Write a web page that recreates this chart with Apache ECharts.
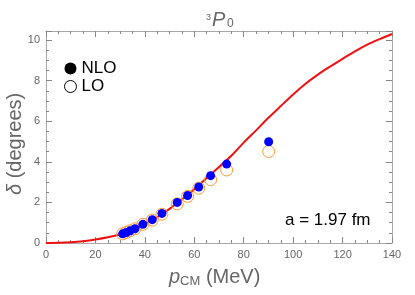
<!DOCTYPE html>
<html>
<head>
<meta charset="utf-8">
<script src="https://cdn.jsdelivr.net/npm/echarts@6/dist/echarts.min.js"></script>
<style>
  html, body { margin: 0; padding: 0; background: #fff; }
  #main { width: 415px; height: 295px; }
</style>
</head>
<body>
<div id="main"></div>
<script>
// phase shift curve (red line)
const curveP = [0, 5, 10, 15, 20, 25, 30, 35, 40, 45, 50, 55, 60, 65, 70, 75, 80, 85, 90, 95, 100, 105, 110, 115, 120, 125, 130, 135, 140];
const curveDelta = [0, 0.01, 0.04, 0.09, 0.17, 0.28, 0.43, 0.65, 0.93, 1.27, 1.68, 2.14, 2.65, 3.2, 3.75, 4.3, 4.95, 5.55, 6.17, 6.75, 7.32, 7.85, 8.3, 8.7, 9.08, 9.45, 9.78, 10.05, 10.3];

// lattice points
const pPoints = [31.0, 32.5, 34.0, 36.0, 39.2, 43.0, 46.9, 53.1, 57.3, 61.8, 66.6, 73.1, 90.1];
const nloDelta = [0.45, 0.52, 0.6, 0.7, 0.92, 1.15, 1.46, 2.0, 2.34, 2.76, 3.32, 3.89, 4.99];
const loDelta = [0.45, 0.52, 0.6, 0.7, 0.92, 1.13, 1.42, 1.93, 2.3, 2.7, 3.12, 3.6, 4.51];

const chart = echarts.init(document.getElementById('main'), null, { renderer: 'canvas' });

const gray = '#a8a8a8';
const tickGray = '#888888';
const labelGray = '#666666';
const font = 'Liberation Sans, Arial, sans-serif';

function makeAxis(type, pos, min, max, interval, showLabel) {
  return {
    type: type, position: pos, min: min, max: max, interval: interval,
    axisLine: { show: true, onZero: false, lineStyle: { color: gray, width: 1 } },
    axisTick: { show: true, inside: true, length: 6, lineStyle: { color: tickGray, width: 1 } },
    minorTick: { show: true, splitNumber: 4, length: 3, lineStyle: { color: tickGray, width: 1 } },
    splitLine: { show: false },
    axisLabel: { show: showLabel, color: labelGray, fontSize: 11, fontFamily: font, margin: 6 }
  };
}

const option = {
  animation: false,
  grid: { left: 46, right: 23, top: 31, bottom: 52 },
  xAxis: [
    makeAxis('value', 'bottom', 0, 140, 20, true),
    makeAxis('value', 'top', 0, 140, 20, false)
  ],
  yAxis: [
    makeAxis('value', 'left', 0, 10.45, 2, true),
    makeAxis('value', 'right', 0, 10.45, 2, false)
  ],
  legend: {
    orient: 'vertical', left: 59, top: 55, itemGap: 1,
    itemWidth: 12, itemHeight: 12,
    textStyle: { color: '#000', fontSize: 17, fontFamily: font },
    data: [
      { name: 'NLO', icon: 'circle', itemStyle: { color: '#000', borderWidth: 0 } },
      { name: 'LO', icon: 'circle', itemStyle: { color: '#fff', borderColor: '#000', borderWidth: 1 } }
    ]
  },
  series: [
    {
      name: 'curve', type: 'line', showSymbol: false, smooth: 0.3,
      lineStyle: { color: '#ee1111', width: 2 },
      data: curveP.map((p, i) => [p, curveDelta[i]]),
      z: 2
    },
    {
      name: 'LO', type: 'scatter', symbol: 'circle', symbolSize: 12,
      itemStyle: { color: 'rgba(255,255,255,0)', borderColor: '#ff9933', borderWidth: 1, opacity: 1 },
      data: pPoints.map((p, i) => [p, loDelta[i]]),
      z: 3
    },
    {
      name: 'NLO', type: 'scatter', symbol: 'circle', symbolSize: 9,
      itemStyle: { color: '#0000ff', opacity: 1 },
      data: pPoints.map((p, i) => [p, nloDelta[i]]),
      z: 4
    }
  ],
  graphic: [
    { type: 'text', left: 206, top: 13, style: { text: '3', fontSize: 9, fill: labelGray, fontFamily: font } },
    { type: 'text', left: 212, top: 10, style: { text: 'P', fontSize: 20, fontStyle: 'italic', fill: labelGray, fontFamily: font } },
    { type: 'text', left: 227, top: 18, style: { text: '0', fontSize: 12, fill: labelGray, fontFamily: font } },
    {
      type: 'text', left: 169, top: 267,
      style: {
        text: '{i|p}{s|CM} (MeV)', fill: labelGray, fontSize: 20, fontFamily: font,
        rich: {
          i: { fontStyle: 'italic', fontSize: 20, fill: labelGray, fontFamily: font },
          s: { fontSize: 13, fill: labelGray, fontFamily: font, padding: [9, 0, 0, 0] }
        }
      }
    },
    {
      type: 'text', x: 5, y: 195, rotation: Math.PI / 2,
      style: {
        text: '{i|δ} (degrees)', fill: labelGray, fontSize: 20, fontFamily: font,
        rich: { i: { fontStyle: 'italic', fontSize: 20, fill: labelGray, fontFamily: font } }
      }
    },
    {
      type: 'text', left: 285, top: 212,
      style: { text: 'a = 1.97 fm', fontSize: 17, fill: '#000', fontFamily: font }
    }
  ]
};

chart.setOption(option);
</script>
</body>
</html>
